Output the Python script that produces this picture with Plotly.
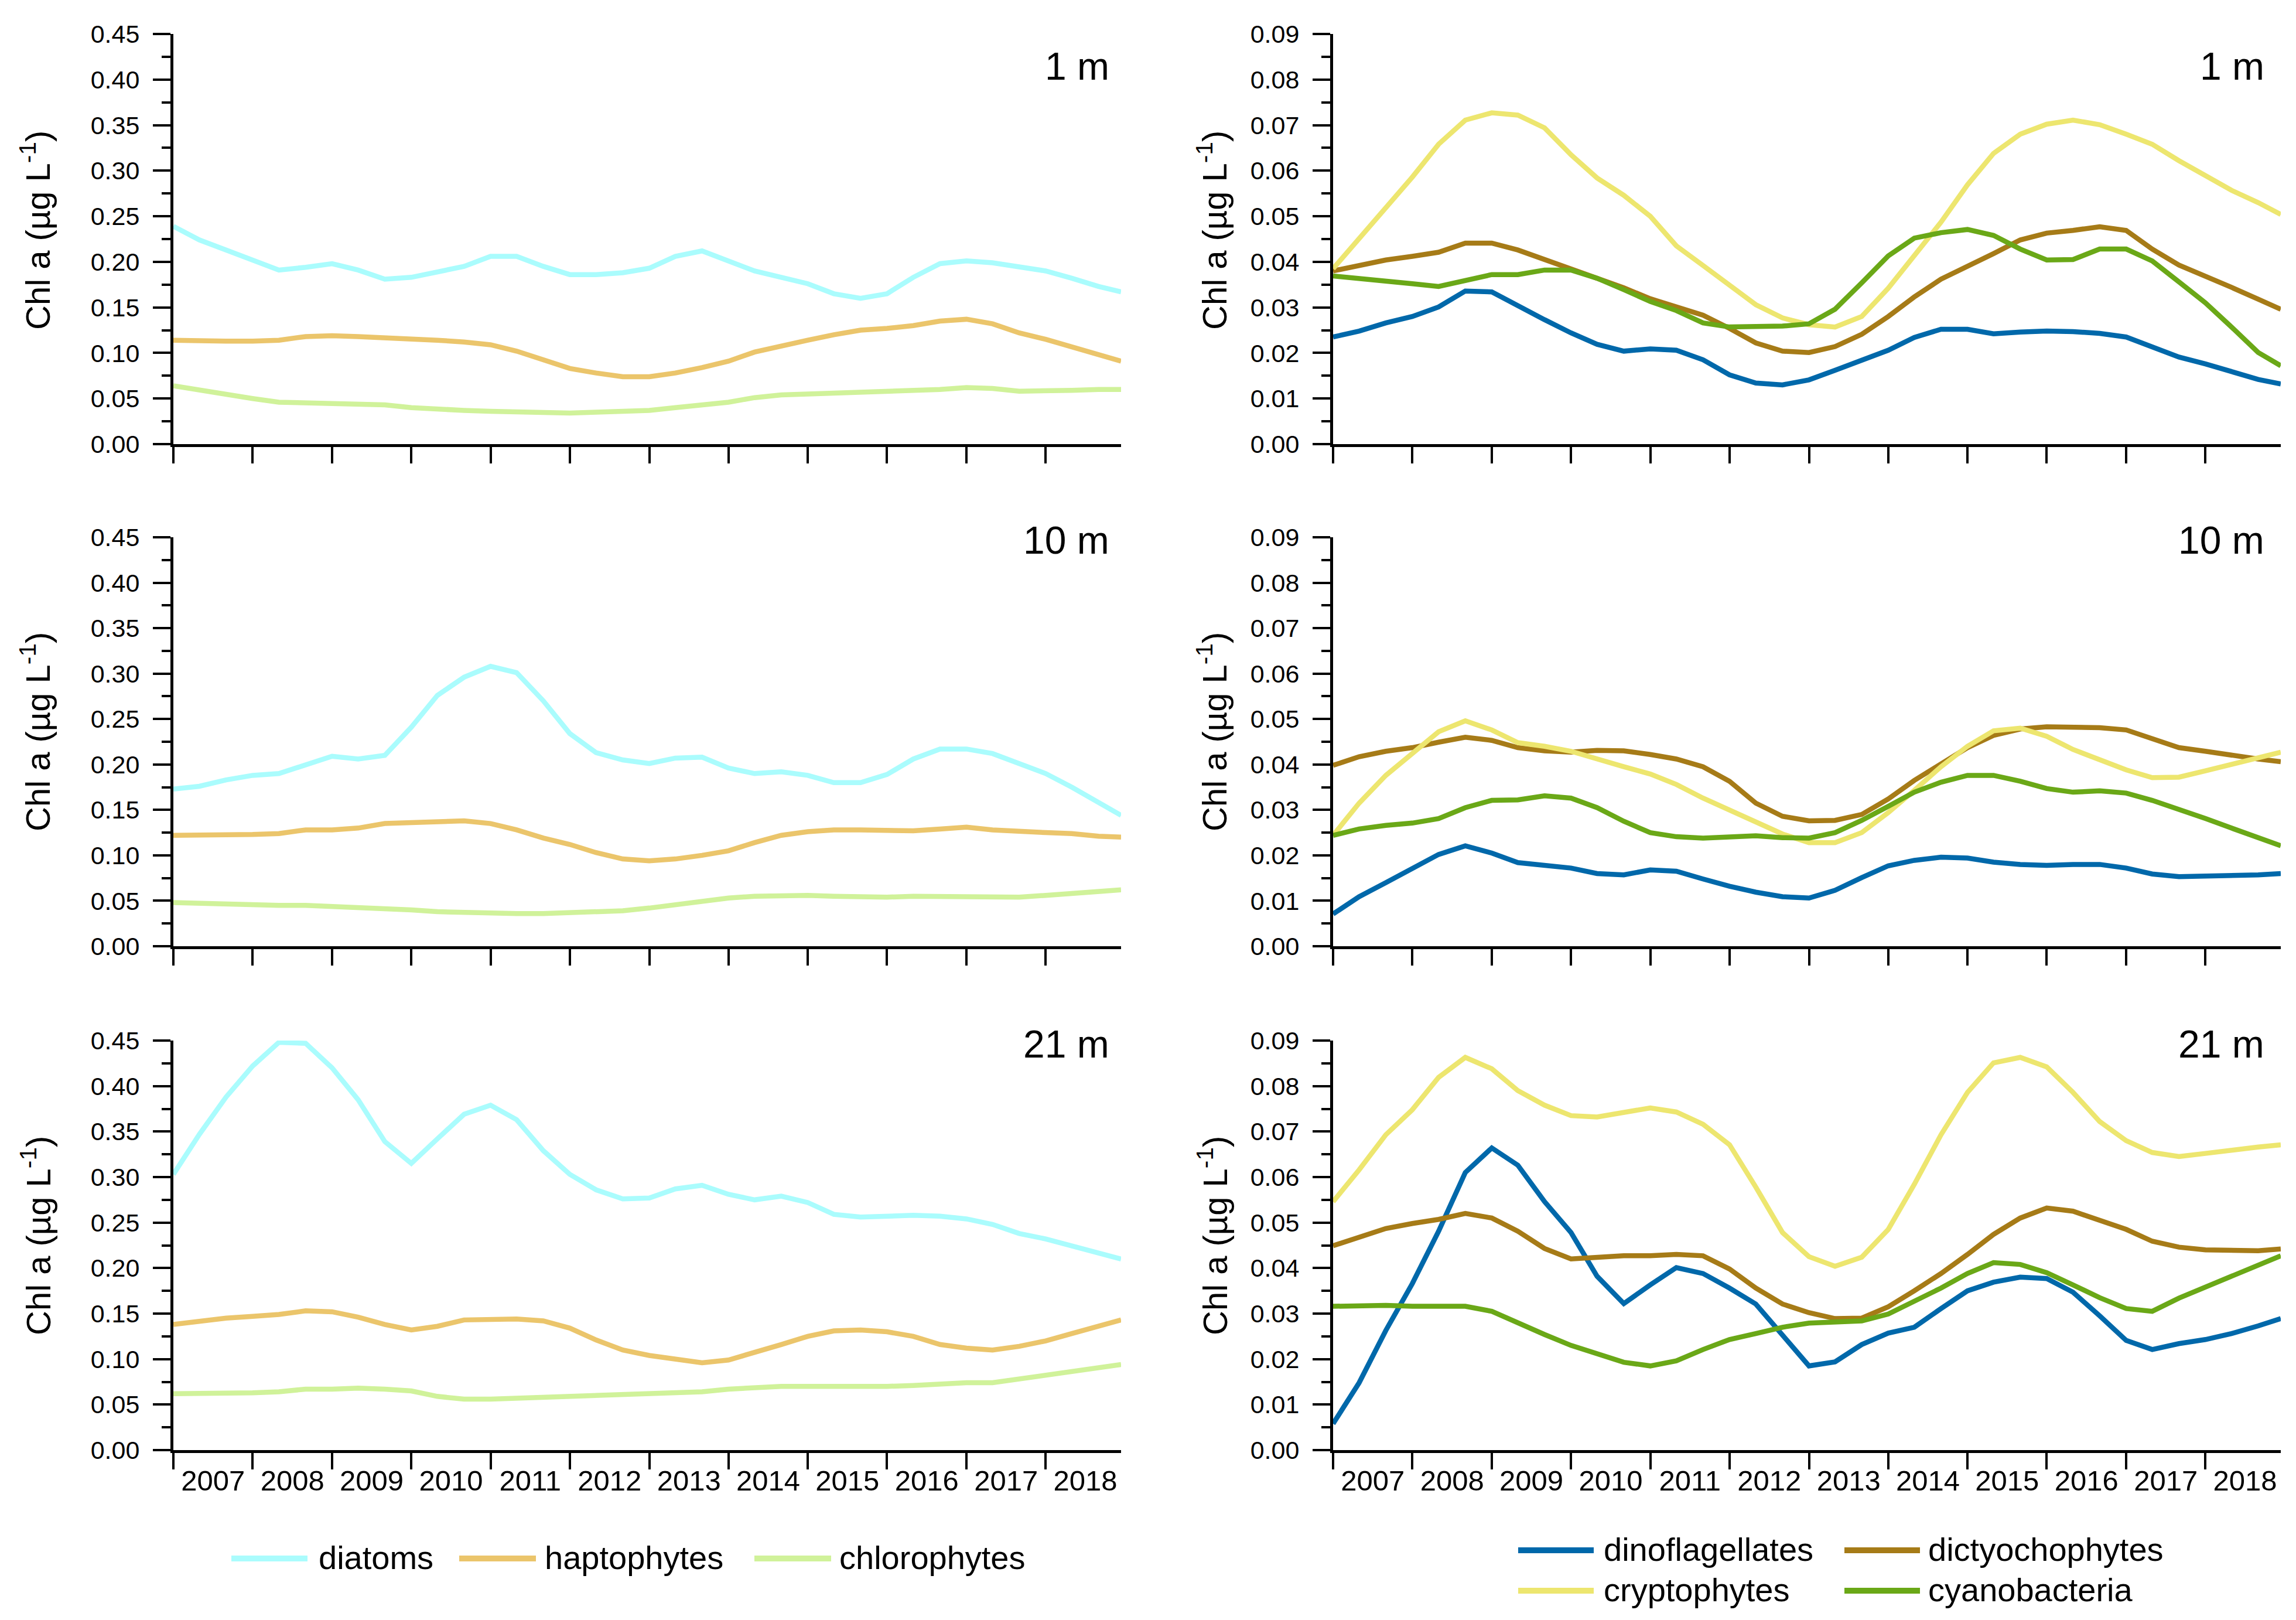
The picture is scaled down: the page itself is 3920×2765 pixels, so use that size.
import pandas as pd
import plotly.graph_objects as go

# ---------------- data ----------------
dates = list(pd.date_range("2007-01-01", periods=36, freq="4MS").strftime("%Y-%m-%d")) + ["2018-12-14"]

depths = ["1 m", "10 m", "21 m"]
left_names = ["diatoms", "haptophytes", "chlorophytes"]
right_names = ["dinoflagellates", "dictyochophytes", "cryptophytes", "cyanobacteria"]

diat_1 = [0.239,0.224,0.213,0.202,0.191,0.194,0.198,0.191,0.181,0.183,0.189,0.195,0.206,0.206,0.195,0.186,0.186,0.188,0.193,0.206,0.212,0.201,0.190,0.183,0.176,0.165,0.160,0.165,0.183,0.198,0.201,0.199,0.195,0.190,0.182,0.173,0.167]
hapt_1 = [0.114,0.113,0.113,0.113,0.114,0.118,0.119,0.118,0.117,0.116,0.114,0.112,0.109,0.102,0.092,0.083,0.078,0.074,0.074,0.078,0.084,0.091,0.101,0.108,0.114,0.120,0.125,0.127,0.130,0.135,0.137,0.132,0.122,0.115,0.107,0.099,0.091]
chlo_1 = [0.064,0.059,0.054,0.050,0.046,0.045,0.045,0.044,0.043,0.040,0.038,0.037,0.036,0.035,0.034,0.034,0.035,0.036,0.037,0.040,0.043,0.046,0.051,0.054,0.055,0.056,0.056,0.057,0.058,0.060,0.062,0.061,0.058,0.058,0.059,0.060,0.060]

diat_10 = [0.173,0.176,0.183,0.188,0.190,0.200,0.209,0.206,0.210,0.241,0.276,0.296,0.308,0.301,0.270,0.234,0.213,0.205,0.201,0.207,0.208,0.196,0.190,0.192,0.188,0.180,0.180,0.189,0.206,0.217,0.217,0.212,0.201,0.190,0.175,0.159,0.144]
hapt_10 = [0.122,0.122,0.123,0.123,0.124,0.128,0.128,0.130,0.135,0.136,0.137,0.138,0.135,0.128,0.119,0.112,0.103,0.096,0.094,0.096,0.100,0.105,0.114,0.122,0.126,0.128,0.128,0.127,0.127,0.129,0.131,0.128,0.126,0.125,0.124,0.121,0.120]
chlo_10 = [0.048,0.047,0.046,0.045,0.045,0.045,0.044,0.043,0.042,0.040,0.038,0.037,0.036,0.036,0.036,0.037,0.038,0.039,0.042,0.046,0.049,0.053,0.055,0.056,0.056,0.055,0.054,0.054,0.055,0.055,0.055,0.054,0.054,0.056,0.058,0.060,0.062]

diat_21 = [0.303,0.347,0.388,0.422,0.448,0.447,0.420,0.385,0.339,0.315,0.342,0.369,0.379,0.363,0.329,0.303,0.286,0.276,0.277,0.287,0.291,0.281,0.275,0.279,0.272,0.259,0.256,0.257,0.258,0.257,0.254,0.248,0.238,0.232,0.224,0.217,0.210]
hapt_21 = [0.138,0.142,0.145,0.147,0.149,0.153,0.152,0.146,0.138,0.132,0.136,0.143,0.144,0.144,0.142,0.134,0.121,0.110,0.104,0.100,0.096,0.099,0.107,0.116,0.125,0.131,0.132,0.130,0.125,0.116,0.112,0.110,0.114,0.120,0.128,0.136,0.143]
chlo_21 = [0.062,0.062,0.062,0.063,0.064,0.067,0.067,0.068,0.067,0.065,0.059,0.056,0.056,0.057,0.057,0.059,0.060,0.061,0.061,0.062,0.064,0.067,0.069,0.070,0.070,0.070,0.069,0.070,0.071,0.073,0.074,0.074,0.078,0.082,0.087,0.091,0.094]

dino_1 = [0.0235,0.0248,0.0266,0.0280,0.0301,0.0336,0.0334,0.0303,0.0273,0.0244,0.0219,0.0204,0.0209,0.0206,0.0185,0.0152,0.0134,0.0130,0.0141,0.0162,0.0183,0.0206,0.0234,0.0252,0.0252,0.0242,0.0246,0.0248,0.0247,0.0243,0.0235,0.0214,0.0191,0.0176,0.0158,0.0142,0.0132]
dict_1 = [0.0380,0.0393,0.0404,0.0412,0.0421,0.0441,0.0441,0.0426,0.0405,0.0387,0.0366,0.0343,0.0319,0.0301,0.0283,0.0254,0.0222,0.0204,0.0201,0.0214,0.0241,0.0280,0.0323,0.0362,0.0389,0.0418,0.0448,0.0463,0.0469,0.0477,0.0469,0.0428,0.0393,0.0369,0.0344,0.0318,0.0296]
cryp_1 = [0.0385,0.0451,0.0517,0.0586,0.0658,0.0711,0.0727,0.0722,0.0694,0.0635,0.0584,0.0546,0.0500,0.0435,0.0392,0.0349,0.0306,0.0277,0.0262,0.0257,0.0280,0.0342,0.0412,0.0487,0.0569,0.0638,0.0680,0.0702,0.0711,0.0701,0.0680,0.0658,0.0622,0.0589,0.0557,0.0530,0.0504]
cyan_1 = [0.0369,0.0364,0.0359,0.0352,0.0346,0.0360,0.0372,0.0372,0.0382,0.0382,0.0364,0.0339,0.0313,0.0293,0.0266,0.0257,0.0258,0.0259,0.0264,0.0296,0.0354,0.0413,0.0452,0.0464,0.0471,0.0458,0.0428,0.0404,0.0405,0.0428,0.0428,0.0402,0.0356,0.0310,0.0257,0.0201,0.0172]

dino_10 = [0.0071,0.0109,0.0140,0.0170,0.0202,0.0221,0.0205,0.0184,0.0178,0.0172,0.0160,0.0157,0.0168,0.0165,0.0148,0.0132,0.0119,0.0109,0.0106,0.0123,0.0151,0.0177,0.0189,0.0196,0.0194,0.0185,0.0180,0.0178,0.0180,0.0180,0.0172,0.0159,0.0153,0.0154,0.0155,0.0157,0.0160]
dict_10 = [0.0398,0.0417,0.0429,0.0437,0.0449,0.0460,0.0453,0.0437,0.0430,0.0427,0.0431,0.0430,0.0422,0.0412,0.0395,0.0363,0.0315,0.0286,0.0276,0.0277,0.0290,0.0324,0.0365,0.0401,0.0437,0.0464,0.0478,0.0483,0.0481,0.0481,0.0476,0.0457,0.0437,0.0429,0.0420,0.0412,0.0406]
cryp_10 = [0.0244,0.0315,0.0376,0.0424,0.0472,0.0496,0.0476,0.0448,0.0440,0.0429,0.0411,0.0395,0.0379,0.0356,0.0326,0.0300,0.0273,0.0247,0.0228,0.0228,0.0250,0.0294,0.0343,0.0395,0.0440,0.0474,0.0480,0.0462,0.0433,0.0411,0.0388,0.0371,0.0372,0.0386,0.0401,0.0414,0.0427]
cyan_10 = [0.0244,0.0258,0.0266,0.0271,0.0281,0.0305,0.0321,0.0322,0.0331,0.0326,0.0305,0.0275,0.0250,0.0241,0.0238,0.0241,0.0243,0.0239,0.0238,0.0250,0.0277,0.0308,0.0339,0.0361,0.0376,0.0376,0.0363,0.0347,0.0339,0.0342,0.0337,0.0321,0.0302,0.0281,0.0260,0.0238,0.0221]

dino_21 = [0.0058,0.0148,0.0263,0.0366,0.0481,0.0610,0.0664,0.0626,0.0546,0.0478,0.0382,0.0322,0.0363,0.0401,0.0388,0.0356,0.0321,0.0254,0.0185,0.0194,0.0232,0.0257,0.0270,0.0311,0.0350,0.0369,0.0380,0.0377,0.0347,0.0295,0.0241,0.0221,0.0234,0.0243,0.0256,0.0273,0.0289]
dict_21 = [0.0449,0.0469,0.0487,0.0498,0.0507,0.0520,0.0510,0.0481,0.0443,0.0420,0.0424,0.0427,0.0427,0.0430,0.0427,0.0398,0.0356,0.0321,0.0302,0.0289,0.0290,0.0315,0.0350,0.0388,0.0430,0.0474,0.0510,0.0532,0.0525,0.0506,0.0485,0.0459,0.0446,0.0440,0.0438,0.0438,0.0442]
cryp_21 = [0.0546,0.0616,0.0693,0.0748,0.0819,0.0863,0.0838,0.0790,0.0758,0.0735,0.0732,0.0742,0.0752,0.0743,0.0716,0.0671,0.0578,0.0478,0.0425,0.0404,0.0424,0.0485,0.0584,0.0693,0.0786,0.0851,0.0863,0.0842,0.0786,0.0722,0.0680,0.0654,0.0645,0.0652,0.0660,0.0666,0.0671]
cyan_21 = [0.0316,0.0318,0.0318,0.0316,0.0315,0.0316,0.0305,0.0279,0.0254,0.0230,0.0212,0.0193,0.0185,0.0196,0.0221,0.0243,0.0256,0.0270,0.0279,0.0281,0.0284,0.0299,0.0327,0.0356,0.0388,0.0412,0.0408,0.0390,0.0363,0.0335,0.0311,0.0305,0.0334,0.0358,0.0382,0.0408,0.0427]

left_series = [[diat_1, hapt_1, chlo_1], [diat_10, hapt_10, chlo_10], [diat_21, hapt_21, chlo_21]]
right_series = [[dino_1, dict_1, cryp_1, cyan_1], [dino_10, dict_10, cryp_10, cyan_10], [dino_21, dict_21, cryp_21, cyan_21]]

left_colors = ["#AAFCFD", "#EBC56B", "#D0F29A"]
right_colors = ["#0068AA", "#A67B17", "#EDE66F", "#6AA817"]

# ---------------- geometry (pixels of the 3920x2765 page) ----------------
W, H = 3920, 2765
FONT = "Liberation Sans, Arial, sans-serif"
col_px = [(288, 1906), (2268, 3886)]
row_px = [(50, 750), (909, 1607), (1768, 2467)]

def px(x):
    return x / W

def py(y):
    return 1 - y / H

fig = go.Figure()
layout = dict(
    width=W, height=H,
    margin=dict(l=0, r=0, t=0, b=0),
    paper_bgcolor="white", plot_bgcolor="white",
    showlegend=False,
    font=dict(family=FONT, color="black"),
)

annotations = []
shapes = []

for r in range(3):
    for c in range(2):
        n = r * 2 + c + 1
        xa = "x" if n == 1 else f"x{n}"
        ya = "y" if n == 1 else f"y{n}"
        names = left_names if c == 0 else right_names
        colors = left_colors if c == 0 else right_colors
        series = left_series[r] if c == 0 else right_series[r]
        for name, col, vals in zip(names, colors, series):
            fig.add_trace(go.Scatter(
                x=dates, y=vals, mode="lines", name=name,
                line=dict(color=col, width=8.5),
                xaxis=xa, yaxis=ya, showlegend=False, hoverinfo="skip",
            ))
        x0, x1 = col_px[c]
        y0, y1 = row_px[r]
        layout[f"xaxis{'' if n == 1 else n}"] = dict(
            domain=[px(x0), px(x1)], anchor=ya, type="date",
            range=["2007-01-01", "2018-12-14"],
            tick0="2007-01-01", dtick="M12", tickformat="%Y",
            ticklabelmode="period",
            ticks="outside", ticklen=28, tickwidth=4, tickcolor="black",
            showline=True, linewidth=5, linecolor="black",
            showgrid=False, zeroline=False, automargin=False,
            showticklabels=(r == 2),
            tickfont=dict(family=FONT, size=49, color="black"),
            ticklabelstandoff=-23,
        )
        ymax = 0.45 if c == 0 else 0.09
        dt = 0.05 if c == 0 else 0.01
        layout[f"yaxis{'' if n == 1 else n}"] = dict(
            domain=[py(y1), py(y0)], anchor=xa,
            range=[0, ymax], tick0=0, dtick=dt, tickformat=".2f",
            ticks="outside", ticklen=30, tickwidth=4, tickcolor="black",
            minor=dict(dtick=dt / 2, tick0=0, ticks="outside", ticklen=15,
                       tickwidth=4, tickcolor="black"),
            showline=True, linewidth=5, linecolor="black",
            showgrid=False, zeroline=False, automargin=False,
            tickfont=dict(family=FONT, size=43, color="black"),
            ticklabelstandoff=14,
        )

# depth labels
depth_y = [105, 914, 1774]
depth_x = [1888, 3860]
for r in range(3):
    for c in range(2):
        annotations.append(dict(
            text=depths[r], xref="paper", yref="paper",
            x=px(depth_x[c]), y=py(depth_y[r]), xanchor="right", yanchor="middle",
            showarrow=False, font=dict(family=FONT, size=66, color="black"),
        ))

# y-axis titles
title_x = [53, 2062]
title_y = [385, 1241, 2101]
for r in range(3):
    for c in range(2):
        annotations.append(dict(
            text="Chl a (µg L<sup>-1</sup>)", xref="paper", yref="paper",
            x=px(title_x[c]), y=py(title_y[r]), xanchor="center", yanchor="middle",
            textangle=-90, showarrow=False,
            font=dict(family=FONT, size=58, color="black"),
        ))

# legends (line sample + text)
left_leg = [(387, 517, 534), (776, 907, 920), (1280, 1411, 1423)]
for (lx0, lx1, tx), name, col in zip(left_leg, left_names, left_colors):
    shapes.append(dict(type="line", xref="paper", yref="paper",
                       x0=px(lx0), x1=px(lx1), y0=py(2652), y1=py(2652),
                       line=dict(color=col, width=10)))
    annotations.append(dict(text=name, xref="paper", yref="paper", x=px(tx), y=py(2650),
                            xanchor="left", yanchor="middle", showarrow=False,
                            font=dict(family=FONT, size=56, color="black")))

right_leg = [(2584, 2713, 2728, 2638), (3141, 3270, 3282, 2638),
             (2584, 2713, 2728, 2707), (3141, 3270, 3282, 2707)]
for (lx0, lx1, tx, ly), name, col in zip(right_leg, right_names, right_colors):
    shapes.append(dict(type="line", xref="paper", yref="paper",
                       x0=px(lx0), x1=px(lx1), y0=py(ly), y1=py(ly),
                       line=dict(color=col, width=10)))
    annotations.append(dict(text=name, xref="paper", yref="paper", x=px(tx), y=py(ly - 2),
                            xanchor="left", yanchor="middle", showarrow=False,
                            font=dict(family=FONT, size=56, color="black")))

layout["annotations"] = annotations
layout["shapes"] = shapes
fig.update_layout(**layout)
fig.write_html("out.html")
